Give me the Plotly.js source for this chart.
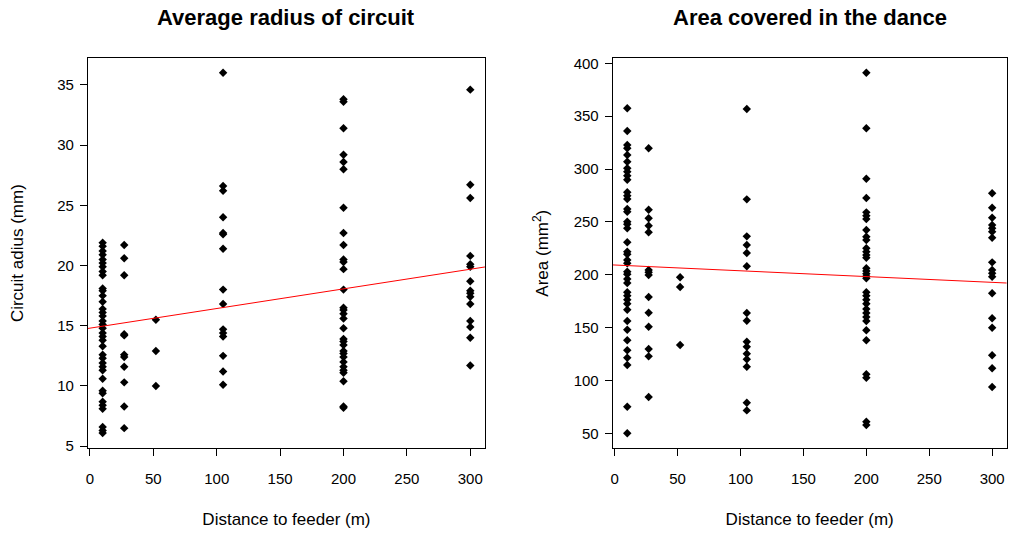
<!DOCTYPE html>
<html>
<head>
<meta charset="utf-8">
<script src="https://cdn.plot.ly/plotly-3.0.1.min.js"></script>
<style>
  html, body { margin: 0; padding: 0; background: #ffffff; }
  #chart { width: 1011px; height: 537px; }
</style>
</head>
<body>
<div id="chart"></div>
<script>
// Distances to feeder (m) of each group of dances
const distances = [10, 27, 52, 105, 200, 300];

// Average radius of circuit (mm), one array per distance group
const radius10 = [21.9, 21.6, 21.2, 20.9, 20.5, 20.2, 19.9, 19.5, 19.2, 18.1, 17.9, 17.5, 17.0, 16.4, 16.1, 15.8, 15.4, 15.1, 14.8, 14.4, 14.1, 13.8, 13.3, 12.6, 12.3, 11.9, 11.6, 11.3, 10.6, 9.6, 9.4, 8.7, 8.4, 8.1, 6.6, 6.3, 6.1];
const radius27 = [21.7, 20.6, 19.2, 14.3, 14.2, 12.6, 12.4, 11.6, 10.3, 8.3, 6.5];
const radius52 = [15.5, 12.9, 10.0];
const radius105 = [36.0, 26.6, 26.2, 24.0, 22.7, 22.6, 21.4, 18.0, 16.8, 14.7, 14.4, 14.1, 12.5, 11.2, 10.1];
const radius200 = [33.8, 33.6, 31.4, 29.2, 28.6, 28.0, 24.8, 22.7, 21.7, 20.5, 20.3, 19.7, 18.0, 16.5, 16.3, 16.0, 15.6, 14.8, 13.9, 13.7, 13.4, 12.9, 12.7, 12.4, 12.0, 11.6, 11.3, 11.1, 10.4, 8.3, 8.2];
const radius300 = [34.6, 26.7, 25.6, 20.8, 20.1, 19.9, 18.7, 17.9, 17.7, 17.4, 16.8, 15.4, 14.9, 14.0, 11.7];

// Area covered in the dance (mm^2), one array per distance group
const area10 = [357.4, 336.0, 322.7, 319.6, 313.3, 306.9, 300.7, 297.5, 293.7, 289.9, 278.0, 274.8, 271.6, 262.2, 259.6, 250.2, 247.7, 243.9, 230.7, 221.8, 219.3, 213.9, 210.8, 202.9, 200.4, 196.0, 192.2, 183.4, 180.2, 176.4, 172.6, 166.9, 156.2, 148.0, 138.0, 128.5, 121.5, 114.6, 75.2, 50.0];
const area27 = [319.6, 261.5, 253.4, 246.4, 240.1, 204.5, 202.3, 199.7, 178.9, 164.1, 150.8, 129.7, 122.8, 84.3];
const area52 = [197.6, 188.4, 133.5];
const area105 = [356.8, 271.3, 236.3, 228.1, 220.6, 208.0, 163.8, 156.5, 136.7, 131.9, 125.3, 120.0, 113.0, 78.9, 71.7];
const area200 = [391.1, 338.5, 290.8, 272.6, 259.0, 255.9, 252.7, 242.3, 236.0, 232.8, 225.0, 221.8, 218.7, 216.1, 206.1, 203.5, 201.0, 198.5, 196.6, 183.4, 180.2, 176.4, 172.6, 167.6, 163.8, 160.0, 156.2, 147.4, 138.0, 105.8, 102.6, 60.9, 57.8];
const area300 = [277.0, 263.4, 254.0, 247.0, 243.9, 240.7, 235.0, 211.7, 204.5, 201.3, 198.1, 182.4, 158.8, 149.9, 123.8, 111.5, 93.8];

// Fitted regression lines (intercept, slope)
const radiusFit = [14.8, 0.0163];
const areaFit = [209.2, -0.0547];

// Tick values
const xTicks = [0, 50, 100, 150, 200, 250, 300];
const radiusTicks = [5, 10, 15, 20, 25, 30, 35];
const areaTicks = [50, 100, 150, 200, 250, 300, 350, 400];

const radiusGroups = [radius10, radius27, radius52, radius105, radius200, radius300];
const areaGroups = [area10, area27, area52, area105, area200, area300];

function flatten(groups) {
  const xs = [], ys = [];
  groups.forEach((g, i) => g.forEach(v => { xs.push(distances[i]); ys.push(v); }));
  return [xs, ys];
}
const [rx, ry] = flatten(radiusGroups);
const [ax, ay] = flatten(areaGroups);

const xRange = [-1.6, 311.6];
const lineX = [xRange[0], xRange[1]];

const font = 'Liberation Sans, Arial, sans-serif';
const markerStyle = {symbol: 'diamond', size: 6.5, color: '#000000', line: {width: 0}};

const traces = [
  {type: 'scatter', mode: 'markers', x: rx, y: ry, xaxis: 'x', yaxis: 'y', marker: markerStyle, hoverinfo: 'x+y'},
  {type: 'scatter', mode: 'lines', x: lineX, y: lineX.map(v => radiusFit[0] + radiusFit[1] * v), xaxis: 'x', yaxis: 'y', line: {color: '#ff0000', width: 1}},
  {type: 'scatter', mode: 'markers', x: ax, y: ay, xaxis: 'x2', yaxis: 'y2', marker: markerStyle, hoverinfo: 'x+y'},
  {type: 'scatter', mode: 'lines', x: lineX, y: lineX.map(v => areaFit[0] + areaFit[1] * v), xaxis: 'x2', yaxis: 'y2', line: {color: '#ff0000', width: 1}}
];

function xAxis(domain, anchor) {
  return {
    domain: domain, anchor: anchor, range: xRange,
    tickvals: xTicks, ticks: 'outside', ticklen: 7, tickwidth: 1, tickcolor: '#000',
    showline: true, mirror: true, linecolor: '#000', linewidth: 1,
    showgrid: false, zeroline: false, ticklabelstandoff: 10,
    tickfont: {family: font, size: 15, color: '#000'},
    title: {text: 'Distance to feeder (m)', font: {family: font, size: 17, color: '#000'}, standoff: 27}
  };
}
function yAxis(domain, anchor, range, ticks, title, standoff) {
  return {
    domain: domain, anchor: anchor, range: range,
    tickvals: ticks, ticks: 'outside', ticklen: 7, tickwidth: 1, tickcolor: '#000',
    showline: true, mirror: true, linecolor: '#000', linewidth: 1,
    showgrid: false, zeroline: false, ticklabelstandoff: 3,
    tickfont: {family: font, size: 15, color: '#000'},
    title: {text: title, font: {family: font, size: 17, color: '#000'}, standoff: standoff}
  };
}

const yDom = [0.1657, 0.8914];
const layout = {
  width: 1011, height: 537,
  margin: {l: 0, r: 0, t: 0, b: 0},
  paper_bgcolor: '#ffffff', plot_bgcolor: '#ffffff',
  showlegend: false,
  xaxis: xAxis([0.0870, 0.4797], 'y'),
  yaxis: yAxis(yDom, 'x', [4.85, 37.2], radiusTicks, 'Circuit adius (mm)', 29),
  xaxis2: xAxis([0.6060, 0.9958], 'y2'),
  yaxis2: yAxis(yDom, 'x2', [36.1, 404.7], areaTicks, 'Area (mm<sup>2</sup>)', 20),
  annotations: [
    {text: '<b>Average radius of circuit</b>', xref: 'paper', yref: 'paper', x: (0.0870 + 0.4797) / 2, y: 1 - 18 / 537, xanchor: 'center', yanchor: 'middle', showarrow: false, font: {family: font, size: 22, color: '#000'}},
    {text: '<b>Area covered in the dance</b>', xref: 'paper', yref: 'paper', x: (0.6060 + 0.9958) / 2, y: 1 - 18 / 537, xanchor: 'center', yanchor: 'middle', showarrow: false, font: {family: font, size: 22, color: '#000'}}
  ]
};

Plotly.newPlot('chart', traces, layout, {displayModeBar: false, staticPlot: true});
</script>
</body>
</html>
